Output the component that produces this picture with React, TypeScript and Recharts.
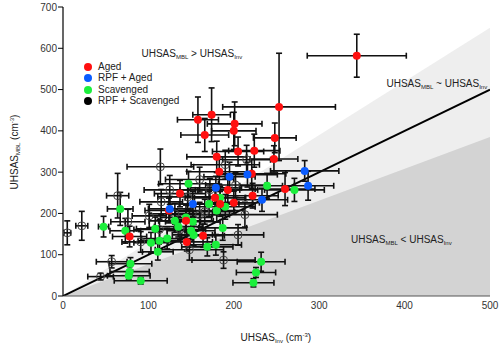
import React from 'react';
import { ComposedChart, XAxis, YAxis, Area, Line, Scatter, ErrorBar } from 'recharts';

// [x, y, xErr, yErr]
const aged: number[][] = [
  [344, 582, 58, 52], [253, 458, 66, 130], [248, 383, 25, 36], [224, 352, 30, 40],
  [247, 332, 28, 32], [158, 427, 24, 55], [174, 439, 22, 65], [201, 417, 32, 53],
  [200, 400, 26, 45], [166, 390, 28, 40], [205, 350, 30, 35], [180, 337, 35, 38],
  [183, 301, 38, 30], [221, 296, 40, 35], [193, 257, 35, 30], [137, 248, 30, 32],
  [178, 238, 35, 28], [184, 223, 38, 30], [200, 226, 30, 28], [222, 243, 30, 30],
  [260, 259, 35, 40], [124, 207, 28, 30], [144, 182, 32, 25], [164, 146, 25, 28],
  [145, 131, 30, 22], [78, 144, 20, 25],
];
const rpfAged: number[][] = [
  [195, 289, 30, 35], [216, 294, 35, 30], [179, 262, 30, 28], [152, 223, 28, 30],
  [125, 211, 25, 30], [233, 233, 30, 28], [283, 303, 40, 25], [287, 267, 30, 35],
];
const scavenged: number[][] = [
  [47.5, 168, 6, 25], [67, 211, 15, 40], [73, 158, 18, 30], [79, 78, 25, 15],
  [78, 59, 23, 12], [77, 49, 25, 10], [91, 37, 31, 8], [103, 129, 20, 25],
  [111, 107, 18, 20], [108, 163, 22, 28], [113, 134, 25, 22], [122, 139, 30, 25],
  [131, 182, 30, 28], [135, 168, 28, 25], [144, 190, 30, 30], [152, 180, 32, 25],
  [150, 158, 28, 22], [153, 148, 25, 25], [147, 272, 35, 30], [171, 223, 35, 30],
  [180, 207, 32, 28], [190, 216, 35, 30], [184, 238, 30, 28], [169, 119, 30, 22],
  [179, 124, 30, 25], [187, 165, 28, 30], [239, 267, 32, 30], [271, 257, 35, 28],
  [232, 83, 28, 23], [226, 57, 23, 12], [223, 32, 24, 10],
];
const rpfScavenged: number[][] = [
  [5, 153, 4, 29], [22, 170, 7, 35], [64, 243, 13, 54], [57, 83, 18, 15],
  [44, 47, 15, 8], [115, 228, 25, 30], [101, 194, 20, 28], [91, 131, 22, 25],
  [188, 87, 37, 20], [114, 313, 39, 43], [215, 330, 28, 35], [76, 180, 20, 30],
  [137, 161, 30, 25], [160, 197, 35, 30], [125, 257, 30, 35], [202, 269, 35, 30],
  [146, 240, 35, 30], [160, 282, 40, 30], [172, 257, 35, 28], [190, 318, 40, 35],
  [213, 197, 38, 30], [131, 199, 30, 25], [113, 161, 30, 25], [205, 148, 30, 25],
  [166, 204, 35, 30], [148, 112, 40, 25],
];

const xTicks = [0, 100, 200, 300, 400, 500];
const yTicks = [0, 100, 200, 300, 400, 500, 600, 700];
const regionX = [0, 500];
const upperSlope = 1.3;
const lowerSlope = 0.77;

const regionData = regionX.map((x) => ({ x, hi: x * upperSlope, lo: x * lowerSlope, one: x }));
const toRows = (arr: number[][]) => arr.map(([x, y, ex, ey]) => ({ x, y, ex, ey }));

const FONT = '"Liberation Sans", Arial, Helvetica, sans-serif';
const RED = '#ff1010';
const BLUE = '#0a5cff';
const GREEN = '#1bef3c';

const Uh = ({ sub }: { sub: string }) => (
  <span>
    UHSAS<span style={{ fontSize: 6, verticalAlign: '-1.5px' }}>{sub}</span>
  </span>
);
const Unit = () => (
  <span>
    {' '}(cm<span style={{ fontSize: 6, verticalAlign: '4px' }}>-3</span>)
  </span>
);

const txt: React.CSSProperties = {
  position: 'absolute',
  fontFamily: FONT,
  fontSize: 10,
  lineHeight: '10px',
  color: '#222',
  whiteSpace: 'nowrap',
};

const dot = (color: string) => (props: any) => (
  <circle cx={props.cx} cy={props.cy} r={4} fill={color} />
);
const none = () => <g />;
const hollow = (props: any) => (
  <circle cx={props.cx} cy={props.cy} r={4} fill="none" stroke="#444" strokeWidth={1} />
);

const legendItems = [
  { label: 'Aged', color: RED },
  { label: 'RPF + Aged', color: BLUE },
  { label: 'Scavenged', color: GREEN },
  { label: 'RPF + Scavenged', color: '#000' },
];

const errBars = () => [
  <ErrorBar key="ex" dataKey="ex" direction="x" width={3} stroke="#111" strokeWidth={1.6} isAnimationActive={false} />,
  <ErrorBar key="ey" dataKey="ey" direction="y" width={3} stroke="#111" strokeWidth={1.6} isAnimationActive={false} />,
];

export default function App() {
  const tickStyle = { fontSize: 10, fill: '#333', fontFamily: FONT };
  return (
    <div style={{ position: 'absolute', left: 0, top: 0, width: 500, height: 346, background: '#fff' }}>
      <ComposedChart width={500} height={346} data={regionData} margin={{ top: 7, right: 10, bottom: 0, left: 0 }}>
        <XAxis
          type="number" dataKey="x" domain={[0, 500]} ticks={xTicks} height={50}
          tickLine={false} tickSize={4} tickMargin={2} tick={tickStyle}
          axisLine={{ stroke: '#555', strokeWidth: 1 }} allowDataOverflow
        />
        <XAxis
          xAxisId="top" orientation="top" type="number" dataKey="x" domain={[0, 500]} ticks={xTicks}
          height={0} mirror tick={false} tickSize={5} tickLine={{ stroke: '#000', strokeWidth: 1.2 }}
          axisLine={{ stroke: '#000', strokeWidth: 1.2 }}
        />
        <YAxis
          type="number" domain={[0, 700]} ticks={yTicks} width={63} tickSize={5} tickMargin={1}
          tick={tickStyle} tickLine={{ stroke: '#000' }} axisLine={{ stroke: '#000', strokeWidth: 1.2 }}
          allowDataOverflow
        />
        <YAxis
          yAxisId="in" type="number" domain={[0, 700]} ticks={yTicks} width={0} mirror tick={false}
          tickSize={6} tickLine={{ stroke: '#000' }} axisLine={false}
        />
        <Area type="linear" dataKey="hi" stroke="none" fill="#eeeeee" fillOpacity={1} isAnimationActive={false} dot={false} activeDot={false} />
        <Area type="linear" dataKey="lo" stroke="none" fill="#d3d3d3" fillOpacity={1} isAnimationActive={false} dot={false} activeDot={false} />
        <Line type="linear" dataKey="one" stroke="#000" strokeWidth={2} dot={false} activeDot={false} isAnimationActive={false} />
        <Scatter data={toRows(rpfScavenged)} dataKey="y" shape={hollow} isAnimationActive={false}>
          {errBars()}
        </Scatter>
        <Scatter data={toRows(scavenged)} dataKey="y" shape={none} isAnimationActive={false}>
          {errBars()}
        </Scatter>
        <Scatter data={toRows(aged)} dataKey="y" shape={none} isAnimationActive={false}>
          {errBars()}
        </Scatter>
        <Scatter data={toRows(rpfAged)} dataKey="y" shape={none} isAnimationActive={false}>
          {errBars()}
        </Scatter>
        <Scatter data={toRows(scavenged)} dataKey="y" shape={dot(GREEN)} isAnimationActive={false} />
        <Scatter data={toRows(aged)} dataKey="y" shape={dot(RED)} isAnimationActive={false} />
        <Scatter data={toRows(rpfAged)} dataKey="y" shape={dot(BLUE)} isAnimationActive={false} />
      </ComposedChart>

      {legendItems.map((it, i) => (
        <div key={it.label} style={{ ...txt, left: 84, top: 62 + i * 11.3, display: 'flex', alignItems: 'center' }}>
          <span style={{ display: 'inline-block', width: 8, height: 8, borderRadius: 4, background: it.color, marginRight: 6 }} />
          <span>{it.label}</span>
        </div>
      ))}

      <div style={{ ...txt, left: 141.5, top: 48.8 }}>
        <Uh sub="MBL" />&nbsp;&gt;&nbsp;<Uh sub="Inv" />
      </div>
      <div style={{ ...txt, left: 386.5, top: 79 }}>
        <Uh sub="MBL" /> ~ <Uh sub="Inv" />
      </div>
      <div style={{ ...txt, left: 351, top: 235 }}>
        <Uh sub="MBL" />&nbsp;&lt;&nbsp;<Uh sub="Inv" />
      </div>

      <div style={{ ...txt, left: 240.5, top: 330 }}>
        <Uh sub="Inv" />
        <Unit />
      </div>
      <div style={{ ...txt, left: 15, top: 152, transform: 'translate(-50%, -50%) rotate(-90deg)' }}>
        <Uh sub="MBL" />
        <Unit />
      </div>
    </div>
  );
}
